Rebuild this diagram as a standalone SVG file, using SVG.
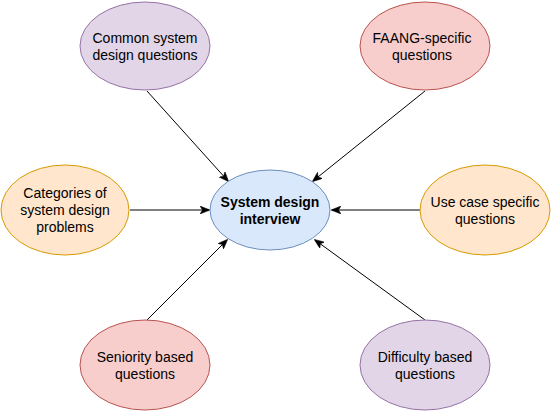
<svg xmlns="http://www.w3.org/2000/svg" width="551" height="411" viewBox="0 0 551 411">
<style>
text{font-family:"Liberation Sans",Arial,Helvetica,sans-serif;font-size:14px;fill:#000;text-anchor:middle}
.b{font-weight:bold}
.purple{fill:#e1d5e7;stroke:#9673a6;stroke-width:1}
.red{fill:#f8cecc;stroke:#b85450;stroke-width:1}
.orange{fill:#ffe6cc;stroke:#d79b00;stroke-width:1}
.blue{fill:#dae8fc;stroke:#6c8ebf;stroke-width:1}
.edge{fill:none;stroke:#000;stroke-width:1;marker-end:url(#arr)}
</style>
<defs>
<marker id="arr" viewBox="0 0 10 8" refX="9" refY="4" markerWidth="10" markerHeight="8" markerUnits="userSpaceOnUse" orient="auto">
<path d="M0,0 L10,4 L0,8 L2.5,4 Z" fill="#000" stroke="#000" stroke-width="0.5"/>
</marker>
</defs>
<g id="connectors">
<path class="edge" d="M147,91 L228,181"/>
<path class="edge" d="M425,91 L313,181"/>
<path class="edge" d="M130,210 L209,210"/>
<path class="edge" d="M420,210 L332,210"/>
<path class="edge" d="M147,320 L227,240"/>
<path class="edge" d="M425,320 L315,240"/>
</g>
<g id="center">
<ellipse class="blue" cx="270" cy="210" rx="60" ry="40"/>
<text class="b" x="270" y="207">System design</text>
<text class="b" x="270" y="224">interview</text>
</g>
<g id="common">
<ellipse class="purple" cx="145" cy="46" rx="65" ry="44"/>
<text x="145" y="43">Common system</text>
<text x="145" y="60">design questions</text>
</g>
<g id="faang">
<ellipse class="red" cx="425" cy="46" rx="65" ry="44"/>
<text x="422" y="43">FAANG-specific</text>
<text x="422" y="60">questions</text>
</g>
<g id="categories">
<ellipse class="orange" cx="65" cy="210" rx="64" ry="45"/>
<text x="65" y="198">Categories of</text>
<text x="65" y="215">system design</text>
<text x="65" y="232">problems</text>
</g>
<g id="usecase">
<ellipse class="orange" cx="485" cy="210" rx="65" ry="45"/>
<text x="485" y="207">Use case specific</text>
<text x="485" y="224">questions</text>
</g>
<g id="seniority">
<ellipse class="red" cx="145" cy="365" rx="65" ry="45"/>
<text x="145" y="362">Seniority based</text>
<text x="145" y="379">questions</text>
</g>
<g id="difficulty">
<ellipse class="purple" cx="425" cy="365" rx="65" ry="45"/>
<text x="425" y="362">Difficulty based</text>
<text x="425" y="379">questions</text>
</g>
</svg>
